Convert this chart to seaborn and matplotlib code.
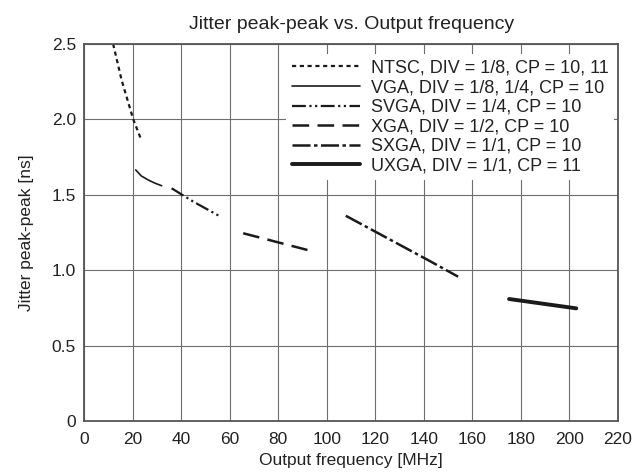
import matplotlib
matplotlib.use('Agg')
import matplotlib.pyplot as plt
import seaborn as sns

# data
ntsc_f = [11.9, 15.4, 20.2, 23.6]
ntsc_j = [2.50, 2.26, 2.00, 1.86]
vga_f = [21.2, 23.5, 26.4, 29.0, 31.9]
vga_j = [1.665, 1.625, 1.598, 1.578, 1.560]
svga_f = [36.0, 45.0, 55.6]
svga_j = [1.543, 1.454, 1.360]
xga_f = [65.5, 92.0]
xga_j = [1.245, 1.134]
sxga_f = [107.8, 142.4, 154.1]
sxga_j = [1.361, 1.061, 0.957]
uxga_f = [175.1, 202.8]
uxga_j = [0.809, 0.747]

labels = ['NTSC, DIV = 1/8, CP = 10, 11',
          'VGA, DIV = 1/8, 1/4, CP = 10',
          'SVGA, DIV = 1/4, CP = 10',
          'XGA, DIV = 1/2, CP = 10',
          'SXGA, DIV = 1/1, CP = 10',
          'UXGA, DIV = 1/1, CP = 11']

x_ticks = [0, 20, 40, 60, 80, 100, 120, 140, 160, 180, 200, 220]
y_ticks = [0, 0.5, 1.0, 1.5, 2.0, 2.5]
y_tick_labels = ['0', '0.5', '1.0', '1.5', '2.0', '2.5']

sns.set_style('white')
plt.rcParams['font.family'] = ['Liberation Sans', 'DejaVu Sans']
plt.rcParams['lines.scale_dashes'] = False

series = [
    (ntsc_f, ntsc_j, (0, (3, 2.6)), 1.6),
    (vga_f, vga_j, '-', 1.2),
    (svga_f, svga_j, (0, (10, 2.5, 1.6, 2.5, 1.6, 2.5)), 1.6),
    (xga_f, xga_j, (0, (12, 6)), 1.8),
    (sxga_f, sxga_j, (0, (13, 2.5, 2.5, 2.5)), 1.8),
    (uxga_f, uxga_j, '-', 2.8),
]

fig = plt.figure(figsize=(6.36, 4.74), dpi=100)
ax = fig.add_axes([0.1325, 0.1118, 0.8392, 0.7954])

for (f, j, ls, lw), lab in zip(series, labels):
    sns.lineplot(x=f, y=j, ax=ax, color='#1a1a1a', linewidth=lw,
                 linestyle=ls, label=lab)

ax.set_xlim(0, 220)
ax.set_ylim(0, 2.5)
ax.set_xticks(x_ticks)
ax.set_yticks(y_ticks)
ax.set_yticklabels(y_tick_labels)
ax.tick_params(length=0, labelsize=12.5, colors='#222222')
ax.tick_params(axis='x', pad=8)
ax.tick_params(axis='y', pad=6)
ax.grid(True, color='#6e6e6e', linewidth=0.8)
for sp in ax.spines.values():
    sp.set_color('#555555')
    sp.set_linewidth(1.3)

ax.set_title('Jitter peak-peak vs. Output frequency', fontsize=14, color='#222222', pad=11)
ax.set_xlabel('Output frequency [MHz]', fontsize=12.5, color='#222222', labelpad=4)
ax.set_ylabel('Jitter peak-peak [ns]', fontsize=12.5, color='#222222', labelpad=13)

leg = ax.legend(loc='upper right', bbox_to_anchor=(1.0, 0.982), fontsize=13,
                handlelength=3.8, handletextpad=0.6, labelspacing=0.14,
                borderaxespad=0.2, frameon=True, fancybox=False,
                framealpha=1, borderpad=0.3)
leg.get_frame().set_edgecolor('white')
leg.get_frame().set_linewidth(0)
for t in leg.get_texts():
    t.set_color('#222222')

fig.savefig('out.png', dpi=100)
